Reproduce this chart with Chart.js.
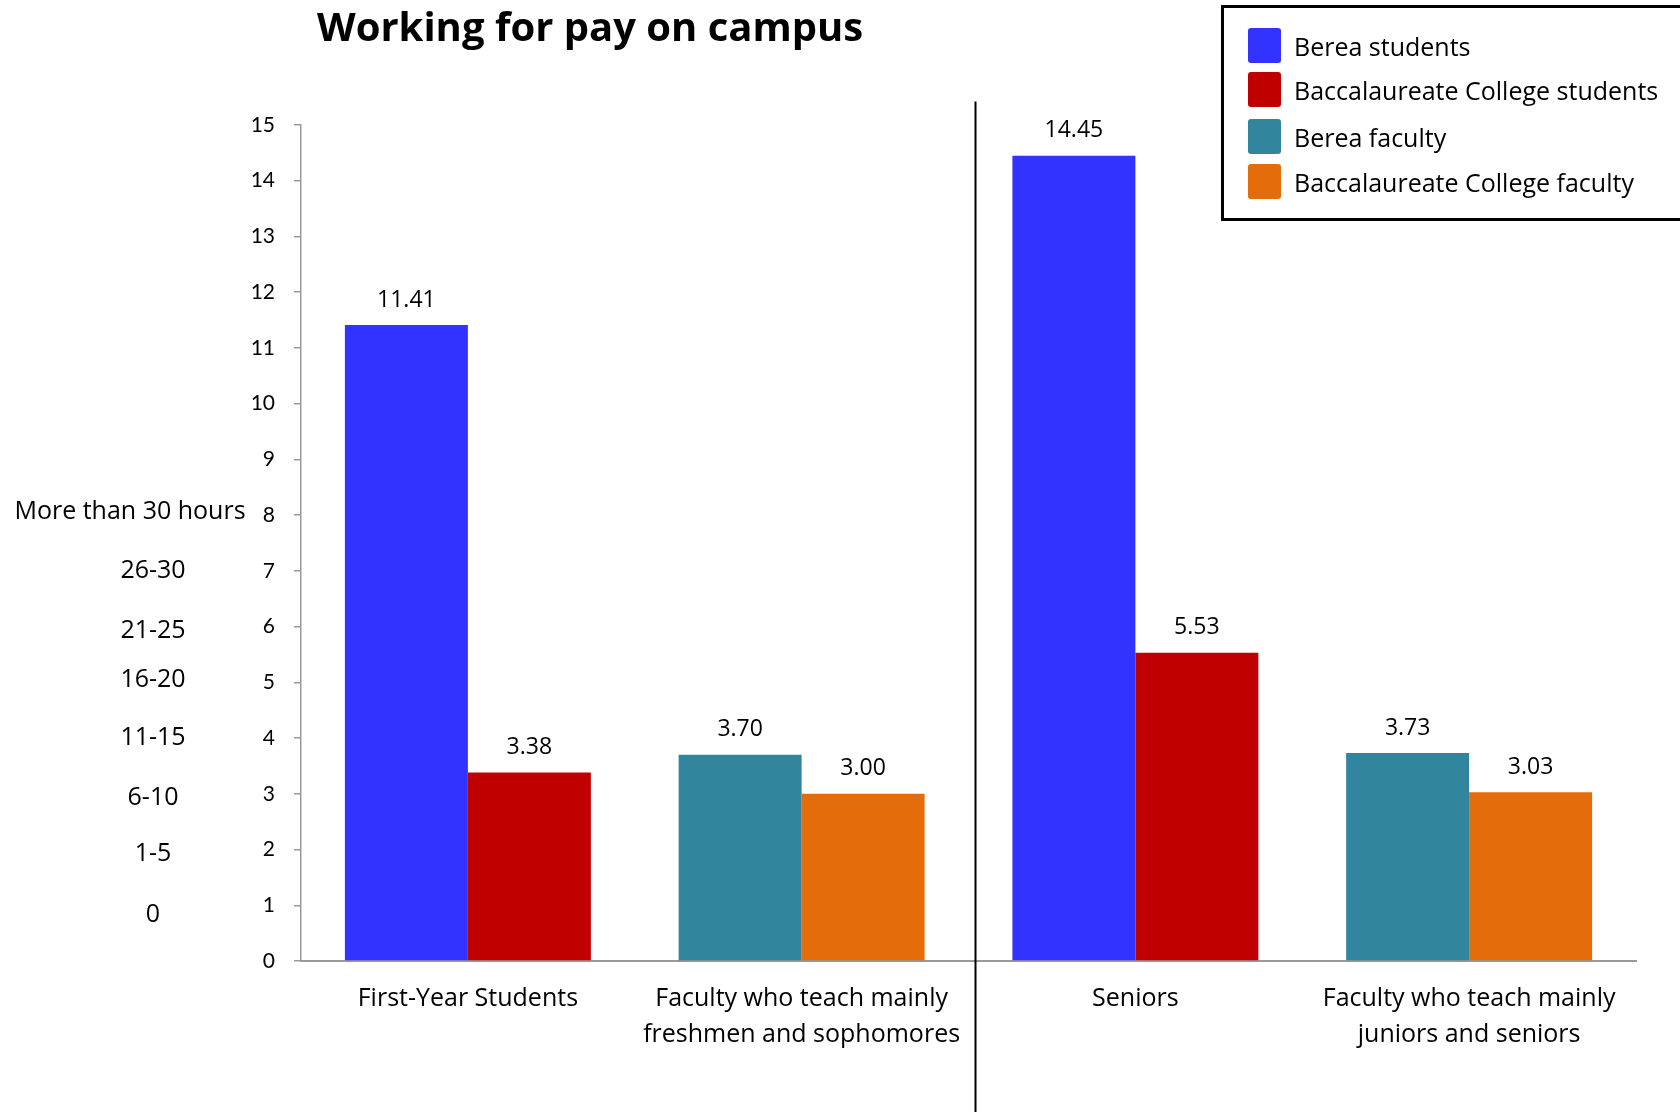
<!DOCTYPE html>
<html>
<head>
<meta charset="utf-8">
<script src="https://cdn.jsdelivr.net/npm/chart.js@4"></script>
<style>
  html, body { margin: 0; padding: 0; background: #fff; }
  #wrap { position: relative; width: 1680px; height: 1112px; overflow: hidden; background: #fff; }
  #c { position: absolute; left: 0; top: 0; }
  #title { position: absolute; left: 317px; top: -2px; font-family: "Open Sans", Lato, sans-serif; font-weight: 700; font-size: 40px; line-height: 56px; color: #000; white-space: nowrap; }
  #legend { position: absolute; left: 1221px; top: 5px; width: 500px; height: 216px; border: 3px solid #000; box-sizing: border-box; font-family: "Open Sans", Lato, sans-serif; font-size: 25px; color: #000; }
  .li { position: absolute; left: 24px; height: 35px; display: flex; align-items: center; white-space: nowrap; }
  .sw { width: 33px; height: 35px; border-radius: 3px; margin-right: 13px; }
</style>
</head>
<body>
<div id="wrap">
  <canvas id="c" width="1680" height="1112"></canvas>
  <div id="title">Working for pay on campus</div>
  <div id="legend"></div>
</div>
<script>
// ---- Data ----
const categories = [
  ["First-Year Students"],
  ["Faculty who teach mainly", "freshmen and sophomores"],
  ["Seniors"],
  ["Faculty who teach mainly", "juniors and seniors"]
];
const seriesNames = ["Berea students", "Baccalaureate College students", "Berea faculty", "Baccalaureate College faculty"];
const bereaStudents = [11.41, null, 14.45, null];
const baccStudents  = [3.38, null, 5.53, null];
const bereaFaculty  = [null, 3.70, null, 3.73];
const baccFaculty   = [null, 3.00, null, 3.03];
const seriesColors  = ["#3333FF", "#C00000", "#31859C", "#E46C0A"];
const yTicks = [0, 1, 2, 3, 4, 5, 6, 7, 8, 9, 10, 11, 12, 13, 14, 15];
const hourLabels = ["More than 30 hours", "26-30", "21-25", "16-20", "11-15", "6-10", "1-5", "0"];
const hourLabelLevels = [8.05, 7.0, 5.93, 5.04, 4.0, 2.93, 1.92, 0.83];
const dividerAt = 1.52;   // between 2nd and 3rd category (category index units)
const dividerTop = 15.42; // value units

const FONT = '"Open Sans", Lato, sans-serif';
const TICKFONT = 'Lato, "Open Sans", sans-serif';
const allSeries = [bereaStudents, baccStudents, bereaFaculty, baccFaculty];

// ---- Legend (HTML) ----
const legendEl = document.getElementById('legend');
const legendRowsTop = [20, 64, 111, 156];
seriesNames.forEach((name, i) => {
  const row = document.createElement('div');
  row.className = 'li';
  row.style.top = legendRowsTop[i] + 'px';
  const sw = document.createElement('div');
  sw.className = 'sw';
  sw.style.background = seriesColors[i];
  const tx = document.createElement('span');
  tx.textContent = name;
  row.appendChild(sw); row.appendChild(tx);
  legendEl.appendChild(row);
});

// ---- Plugins ----
const extrasPlugin = {
  id: 'extras',
  afterDatasetsDraw(chart) {
    const ctx = chart.ctx;
    ctx.save();
    ctx.font = '23px ' + FONT;
    ctx.fillStyle = '#000';
    ctx.textAlign = 'center';
    ctx.textBaseline = 'middle';
    chart.data.datasets.forEach((ds, di) => {
      const meta = chart.getDatasetMeta(di);
      meta.data.forEach((bar, i) => {
        const v = ds.data[i];
        if (v === null || v === undefined) return;
        ctx.fillText(v.toFixed(2), bar.x, bar.y - 25);
      });
    });
    ctx.restore();
  },
  afterDraw(chart) {
    const ctx = chart.ctx;
    const y = chart.scales.y, x = chart.scales.x;
    ctx.save();
    const dx = Math.round(x.getPixelForValue(dividerAt)) + 0.5;
    ctx.strokeStyle = '#000';
    ctx.lineWidth = 2;
    ctx.beginPath();
    ctx.moveTo(dx, y.getPixelForValue(dividerTop));
    ctx.lineTo(dx, chart.height);
    ctx.stroke();
    ctx.font = '25px ' + FONT;
    ctx.fillStyle = '#000';
    ctx.textAlign = 'center';
    ctx.textBaseline = 'middle';
    hourLabels.forEach((t, i) => {
      const cx = i === 0 ? chart.chartArea.left - 171 : chart.chartArea.left - 148;
      ctx.fillText(t, cx, y.getPixelForValue(hourLabelLevels[i]));
    });
    ctx.restore();
  }
};

new Chart(document.getElementById('c'), {
  type: 'bar',
  data: {
    labels: categories,
    datasets: allSeries.map((d, i) => ({
      label: seriesNames[i],
      data: d,
      backgroundColor: seriesColors[i],
      borderWidth: 0,
      skipNull: true,
      barPercentage: 1.0,
      categoryPercentage: 0.737
    }))
  },
  options: {
    responsive: false,
    animation: false,
    layout: { padding: { top: 125, right: 44, left: 0, bottom: 0 } },
    plugins: {
      legend: { display: false },
      title: { display: false },
      tooltip: { enabled: false }
    },
    scales: {
      x: {
        grid: { display: false },
        border: { display: true, color: '#999999', width: 2 },
        ticks: {
          color: '#000',
          font: { family: FONT, size: 25, lineHeight: 1.44 },
          padding: 12,
          maxRotation: 0,
          autoSkip: false
        },
        afterFit(scale) { scale.height = 151; }
      },
      y: {
        min: 0, max: 15,
        afterBuildTicks(scale) { scale.ticks = yTicks.map(v => ({ value: v })); },
        grid: { display: true, drawOnChartArea: false, drawTicks: true, tickLength: 7, color: '#999999', lineWidth: 1.5 },
        border: { display: true, color: '#999999', width: 1.5 },
        ticks: {
          color: '#000',
          font: { family: TICKFONT, size: 21 },
          padding: 19
        },
        afterFit(scale) { scale.width = 301; }
      }
    }
  },
  plugins: [extrasPlugin]
});
</script>
</body>
</html>
